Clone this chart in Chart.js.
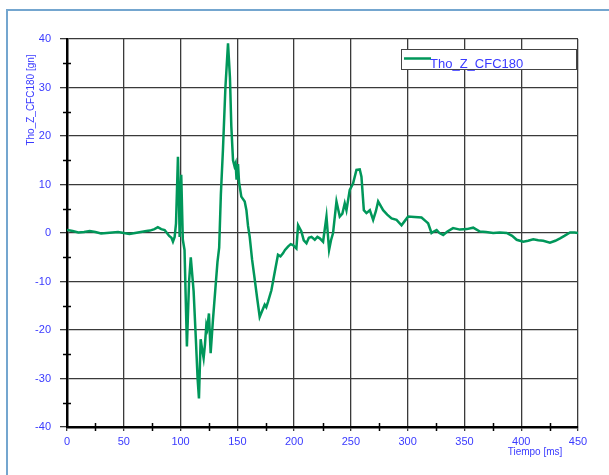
<!DOCTYPE html>
<html>
<head>
<meta charset="utf-8">
<script src="https://cdn.jsdelivr.net/npm/chart.js@4/dist/chart.umd.min.js"></script>
<style>
  html, body { margin: 0; padding: 0; background: #fff; }
  #wrap { width: 609px; height: 475px; position: relative; }
</style>
</head>
<body>
<div id="wrap"><canvas id="chart" width="609" height="475"></canvas></div>
<script>
// Series data (time in ms, acceleration in gn)
const seriesLabel = 'Tho_Z_CFC180';
const xTitle = 'Tiempo [ms]';
const yTitle = 'Tho_Z_CFC180 [gn]';

const times = [
    0, 5, 10, 15, 20, 25, 30, 35, 40, 45, 50, 55, 60, 65, 70, 73, 77, 80, 83, 86,
    88, 90, 92, 93.3, 94.8, 96, 97.7, 98.5, 99.2, 100.6, 102, 103.5, 105.6, 107.5, 109,
    111.5, 113.5, 115, 116.2, 117.7, 119, 120.3, 121.5, 122.7, 123.5, 125, 126.5, 128.5,
    130.5, 132.5, 134, 135.5, 137.3, 139.5, 141.8, 143.5, 144.7, 146.2, 147.5, 148.5,
    149.3, 150.6, 151.5, 153.5, 156.5, 158, 159.4, 160.9, 163, 165, 167.5, 169.7, 172,
    174.1, 175.5, 177, 180, 183, 185.8, 188, 190.2, 192, 194.6, 197, 199, 202, 203.5,
    206.4, 208.5, 210.9, 213, 215.3, 218.2, 220.5, 222.6, 225.5, 228.5, 230.8, 232.5,
    234.3, 237.3, 240.2, 242.5, 244.6, 246.1, 249, 251.9, 254.9, 257.8, 259.3, 261.4,
    263.7, 266.7, 269.6, 272, 274, 278.4, 282, 285.8, 290.2, 294.6, 297.5, 300.4, 306,
    312.2, 316.6, 318, 321, 323, 325.5, 328, 331.3, 335, 340, 346, 352, 357.7, 363.6,
    369, 375.3, 381, 387.2, 392, 396, 401.8, 406, 410.6, 415, 419.4, 425.3, 430, 434.2,
    438, 443, 447, 450
];
const values = [
    0.6, 0.4, 0.1, 0.2, 0.4, 0.2, -0.1, 0, 0.1, 0.2, 0, -0.2, 0, 0.2, 0.4, 0.5, 0.8, 1.2, 0.8, 0.6,
    0, -0.6, -1, -1.8, -0.8, 2, 15.7, 8, -0.8, 12, -1.4, -3.5, -23.4, -10, -5,
    -12, -22, -30, -34.1, -21.9, -24, -25.8, -23, -19, -19.7, -16.6, -24.8, -18,
    -12, -6, -3, 8, 17, 30, 39.1, 32, 22, 15, 13.8, 14.4,
    11, 14.2, 10.5, 7.5, 6.5, 4.7, 1.5, -0.8, -5.5, -9, -13.5, -17.3, -16,
    -14.8, -15.3, -14.2, -11.8, -8, -4.5, -4.8, -4.2, -3.5, -2.8, -2.3, -2.5, -3.2, 1.6,
    0.3, -1.5, -2.1, -1, -0.8, -1.4, -0.8, -1.1, -1.8, 3.4, -3.5, -1.5,
    0, 6.5, 3.4, 4, 6.1, 4.7, 8.9, 10.2, 13, 13.1, 11.6, 4.7,
    4.1, 4.7, 2.7, 4.5, 6.5, 4.7, 3.8, 3, 2.7, 1.6, 2.5, 3.4, 3.3,
    3.2, 2.3, 2, 0, 0.3, 0.6, 0, -0.4, 0.3, 1, 0.7, 0.8, 1.1, 0.3,
    0.2, 0, 0.1, 0, -0.6, -1.4, -1.8, -1.6, -1.3, -1.5, -1.6, -2, -1.6, -1.1,
    -0.6, 0.1, 0.1, 0
];

// Axis ranges and tick steps
const xRange = [0, 450];
const yRange = [-40, 40];
const xStep = 50;
const yStep = 10;

const lineColor = '#00975a';
const textBlue = '#3a3aff';

// Draws the frame, minor ticks, axis titles and the legend box
const decorPlugin = {
    id: 'decor',
    afterDraw(chart) {
        const ctx = chart.ctx;
        const area = chart.chartArea;
        const xs = chart.scales.x;
        const ys = chart.scales.y;
        ctx.save();

        // outer frame
        ctx.strokeStyle = '#74a6cf';
        ctx.lineWidth = 2;
        ctx.beginPath();
        ctx.moveTo(7, 480);
        ctx.lineTo(7, 10);
        ctx.lineTo(615, 10);
        ctx.stroke();

        // minor ticks
        ctx.strokeStyle = '#000';
        ctx.lineWidth = 1.5;
        ctx.beginPath();
        for (let v = xRange[0] + xStep / 2; v < xRange[1]; v += xStep) {
            const px = Math.round(xs.getPixelForValue(v)) + 0.5;
            ctx.moveTo(px, area.bottom - 4);
            ctx.lineTo(px, area.bottom + 4);
        }
        for (let v = yRange[0] + yStep / 2; v < yRange[1]; v += yStep) {
            const py = Math.round(ys.getPixelForValue(v)) + 0.5;
            ctx.moveTo(area.left - 4, py);
            ctx.lineTo(area.left + 4, py);
        }
        ctx.stroke();

        // axis titles
        ctx.fillStyle = textBlue;
        ctx.font = '10px "Liberation Sans", Arial, sans-serif';
        ctx.textAlign = 'center';
        ctx.textBaseline = 'middle';
        ctx.fillText(xTitle, 535, 452);

        ctx.save();
        ctx.translate(31.5, 100);
        ctx.rotate(-Math.PI / 2);
        ctx.fillText(yTitle, 0, 0);
        ctx.restore();

        // legend box
        ctx.fillStyle = '#fff';
        ctx.fillRect(401, 49, 175, 20);
        ctx.strokeStyle = '#444';
        ctx.lineWidth = 1;
        ctx.strokeRect(401.5, 49.5, 175, 20);
        ctx.strokeStyle = lineColor;
        ctx.lineWidth = 2.5;
        ctx.beginPath();
        ctx.moveTo(404, 58.5);
        ctx.lineTo(431, 58.5);
        ctx.stroke();
        ctx.fillStyle = textBlue;
        ctx.font = '13px "Liberation Sans", Arial, sans-serif';
        ctx.textAlign = 'left';
        ctx.textBaseline = 'middle';
        ctx.fillText(chart.data.datasets[0].label, 430, 64);

        ctx.restore();
    }
};

const points = times.map((t, i) => ({ x: t, y: values[i] }));

new Chart(document.getElementById('chart'), {
    type: 'line',
    data: {
        datasets: [{
            label: seriesLabel,
            data: points,
            borderColor: lineColor,
            borderWidth: 2.5,
            pointRadius: 0,
            tension: 0,
            fill: false
        }]
    },
    options: {
        responsive: false,
        animation: false,
        layout: { padding: { top: 39, right: 31, bottom: 0, left: 0 } },
        plugins: {
            legend: { display: false },
            tooltip: { enabled: false }
        },
        scales: {
            x: {
                type: 'linear',
                min: xRange[0],
                max: xRange[1],
                afterFit: scale => { scale.height = 48; },
                ticks: {
                    stepSize: xStep,
                    color: textBlue,
                    padding: 4,
                    maxRotation: 0,
                    font: { family: '"Liberation Sans", Arial, sans-serif', size: 11 }
                },
                grid: { color: '#3a3a3a', lineWidth: 1.3, tickLength: 4 },
                border: { color: '#000', width: 2.5 }
            },
            y: {
                min: yRange[0],
                max: yRange[1],
                afterFit: scale => { scale.width = 67; },
                ticks: {
                    stepSize: yStep,
                    color: textBlue,
                    padding: 9,
                    font: { family: '"Liberation Sans", Arial, sans-serif', size: 11 }
                },
                grid: { color: '#3a3a3a', lineWidth: 1.3, tickLength: 7 },
                border: { color: '#000', width: 2.5 }
            }
        }
    },
    plugins: [decorPlugin]
});
</script>
</body>
</html>
